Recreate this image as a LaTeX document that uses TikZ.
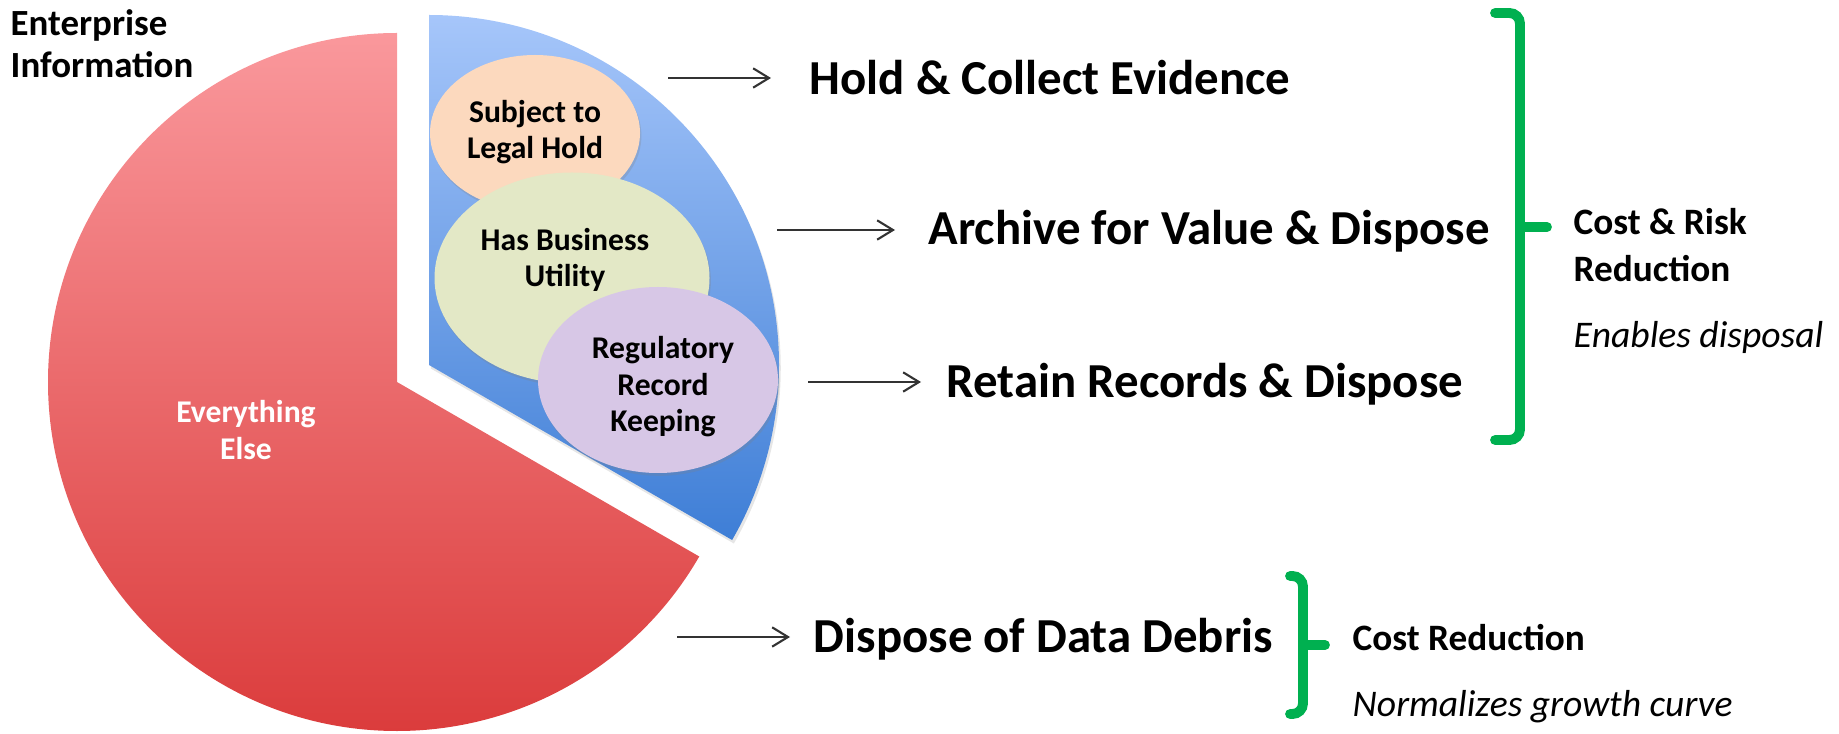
\documentclass[tikz,border=0pt]{standalone}
\usepackage{fontspec}
\setmainfont{Carlito}
\usepackage{tikz}
\usetikzlibrary{shapes,arrows.meta,shadows}

\definecolor{pietop}{RGB}{250,152,156}
\definecolor{piebot}{RGB}{219,60,60}
\definecolor{slicetop}{RGB}{166,198,250}
\definecolor{slicebot}{RGB}{62,126,214}
\definecolor{holdfill}{RGB}{252,217,190}
\definecolor{usefill}{RGB}{227,232,198}
\definecolor{regfill}{RGB}{215,199,230}
\definecolor{bracegreen}{RGB}{0,176,80}

\tikzset{
  bubble/.style={ellipse, inner sep=0pt, drop shadow={opacity=0.25, shadow xshift=0.4pt, shadow yshift=-0.8pt}},
  pietext/.style={font=\bfseries\fontsize{9}{10.4}\selectfont, align=center, inner sep=0pt},
  bigtext/.style={font=\bfseries\fontsize{13.9}{16}\selectfont, anchor=base west, inner sep=0pt},
  sidetext/.style={font=\bfseries\fontsize{10.6}{13.4}\selectfont, align=left, inner sep=0pt},
  notetext/.style={font=\itshape\fontsize{10.7}{13}\selectfont, anchor=base west, inner sep=0pt},
  arr/.style={-{Straight Barb[length=4.5pt,width=5.5pt]}, line width=0.6pt, black!80},
  brace/.style={bracegreen, line width=2.8pt, rounded corners=3pt, line cap=round},
}

\begin{document}
\begin{tikzpicture}
\useasboundingbox (0,0) rectangle (18.39,7.33);

% the pie
\shade[top color=pietop, bottom color=piebot] (3.97,3.51) -- (3.97,7.00) arc[start angle=90, end angle=330, radius=3.49] -- cycle;
\shade[top color=slicetop, bottom color=slicebot, drop shadow={opacity=0.2, shadow xshift=0.5pt, shadow yshift=-1pt}] (4.29,3.68) -- (4.29,7.18) arc[start angle=90, end angle=-30, radius=3.50] -- cycle;

\node[bubble, fill=holdfill, minimum width=2.10cm, minimum height=1.56cm] (holdbub) at (5.35,6.00) {};
\node[bubble, fill=usefill, minimum width=2.75cm, minimum height=2.11cm] (usebub) at (5.72,4.55) {};
\node[bubble, fill=regfill, minimum width=2.40cm, minimum height=1.86cm] (regbub) at (6.58,3.53) {};

\node[pietext] (holdtxt) at (5.35,6.01) {Subject to\\Legal Hold};
\node[pietext] (usetxt) at (5.65,4.73) {Has Business\\Utility};
\node[pietext] (regtxt) at (6.63,3.46) {Regulatory\\Record\\Keeping};
\node[pietext, white, font=\bfseries\fontsize{9}{10.8}\selectfont] (elsetxt) at (2.46,3.03) {Everything\\Else};
\node[sidetext, font=\bfseries\fontsize{10.5}{11.95}\selectfont, anchor=west] (entinfo) at (0.10,6.89) {Enterprise\\Information};

% what happens to each part
\node[bigtext] (hold) at (8.09,6.38) {Hold \& Collect Evidence};
\node[bigtext] (archive) at (9.28,4.88) {Archive for Value \& Dispose};
\node[bigtext] (retain) at (9.46,3.35) {Retain Records \& Dispose};
\node[bigtext] (debris) at (8.13,0.81) {Dispose of Data Debris};

\node[sidetext, anchor=west] (riskred) at (15.73,4.88) {Cost \& Risk\\Reduction};
\node[notetext] (enables) at (15.73,3.85) {Enables disposal};
\node[sidetext, anchor=base west] (costred) at (13.52,0.83) {Cost Reduction};
\node[notetext] (normal) at (13.52,0.17) {Normalizes growth curve};

\coordinate (holdfrom) at (6.68,6.55);
\coordinate (archfrom) at (7.77,5.03);
\coordinate (retfrom) at (8.08,3.51);
\coordinate (debfrom) at (6.77,0.96);

\draw[arr, shorten >=0.38cm] (holdfrom) -- (holdfrom -| hold.west);
\draw[arr, shorten >=0.33cm] (archfrom) -- (archfrom -| archive.west);
\draw[arr, shorten >=0.25cm] (retfrom) -- (retfrom -| retain.west);
\draw[arr, shorten >=0.23cm] (debfrom) -- (debfrom -| debris.west);

% braces
\draw[brace] (14.95,7.20) -- (15.20,7.20) -- (15.20,2.93) -- (14.95,2.93);
\draw[brace] (15.20,5.06) -- (15.47,5.06);
\draw[brace] (12.90,1.57) -- (13.03,1.57) -- (13.03,0.19) -- (12.90,0.19);
\draw[brace] (13.03,0.88) -- (13.25,0.88);

\end{tikzpicture}
\end{document}
